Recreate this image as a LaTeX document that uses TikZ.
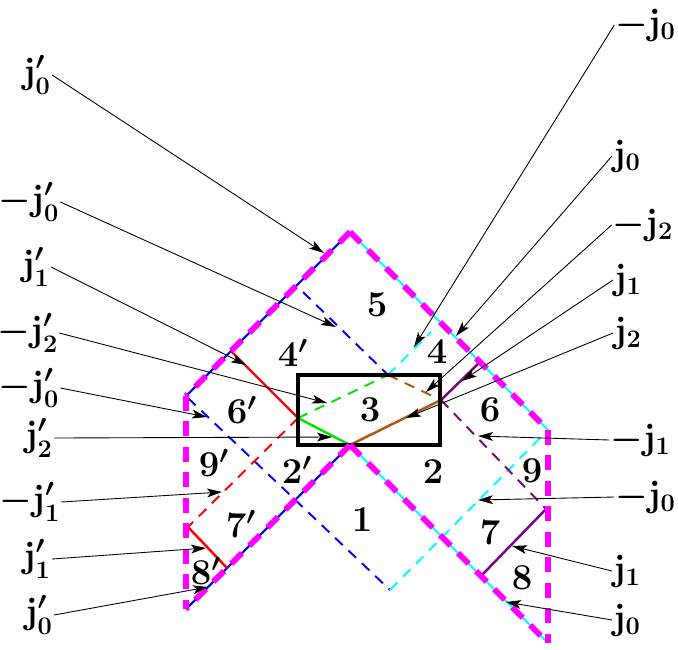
\documentclass[tikz,border=0pt]{standalone}
\usepackage{amsmath}
\usetikzlibrary{arrows.meta}

\definecolor{hexmagenta}{RGB}{255,0,255}
\definecolor{rimblue}{RGB}{0,0,255}
\definecolor{rimcyan}{RGB}{0,255,255}
\definecolor{seamred}{RGB}{255,0,0}
\definecolor{seamgreen}{RGB}{0,230,0}
\definecolor{seambrown}{RGB}{176,84,16}
\definecolor{seampurple}{RGB}{128,0,128}

\newcommand{\jpr}[1]{\mathbf{j}'_{\mathbf{#1}}}
\newcommand{\jsb}[1]{\mathbf{j}_{\mathbf{#1}}}

\begin{document}
\begin{tikzpicture}[x=0.02cm,y=-0.02cm,
        hexline/.style={hexmagenta,line width=3.4pt,dash pattern=on 8.5pt off 6pt},
        rim/.style={line width=1.2pt},
        seam/.style={line width=1.4pt},
        seamdash/.style={line width=1.1pt,dash pattern=on 6pt off 4.5pt},
        pointer/.style={-{Stealth[length=8.5pt,width=5pt,inset=2pt]},line width=0.5pt},
        region/.style={font=\fontsize{20}{24}\selectfont\boldmath,inner sep=0pt},
        jlabel/.style={font=\fontsize{20}{24}\selectfont\boldmath,inner sep=0.5pt}]
    \useasboundingbox (0,0) rectangle (678,649);

        % corners of the outline
        \coordinate (apex) at (350,232);
        \coordinate (cnl) at (186,396);
        \coordinate (cnr) at (548,430);
        \coordinate (cbl) at (186,609);
        \coordinate (cbr) at (548,643);
        \coordinate (vmid) at (350,445);
        \coordinate (vlow) at (390,590);

        % meeting points of the seams
        \coordinate (gl) at (298,418);
        \coordinate (tc) at (388,375);
        \coordinate (rb) at (441,400);
        \coordinate (redtop) at (231,351);
        \coordinate (redleft) at (188,527);
        \coordinate (redbot) at (227,568);
        \coordinate (purtop) at (480,362);
        \coordinate (purright) at (546,509);
        \coordinate (purbot) at (481,576);
        \coordinate (bluein) at (303,292);
        \coordinate (cyanin) at (431,332);
        \coordinate (bluestart) at (188,398);
        \coordinate (cyanend) at (546,432);

        \draw[rim,rimblue] (cnl) -- (apex);
        \draw[rim,rimblue] (cbl) -- (vmid);
        \draw[rim,rimcyan] (apex) -- (cnr);
        \draw[rim,rimcyan] (vmid) -- (cbr);

        \draw[seamdash,rimblue] (bluestart) -- (vlow);
        \draw[seamdash,rimcyan] (vlow) -- (cyanend);
        \draw[seamdash,rimblue] (bluein) -- (tc);
        \draw[seamdash,rimcyan] (tc) -- (cyanin);

        \draw[seam,seamred] (redtop) -- (gl);
        \draw[seamdash,seamred] (gl) -- (redleft);
        \draw[seam,seamred] (redleft) -- (redbot);
        \draw[seam,seamgreen] (gl) -- (vmid);
        \draw[seamdash,seamgreen] (gl) -- (tc);
        \draw[seam,seambrown] (vmid) -- (rb);
        \draw[seamdash,seambrown] (tc) -- (rb);
        \draw[seam,seampurple] (rb) -- (purtop);
        \draw[seamdash,seampurple] (rb) -- (purright);
        \draw[seam,seampurple] (purright) -- (purbot);

        \draw[line width=2.3pt] (298,375) rectangle (440,445);

        \draw[hexline] (apex) -- (cnl);
        \draw[hexline] (apex) -- (cnr);
        \draw[hexline] (cnl) -- (cbl);
        \draw[hexline] (cnr) -- (cbr);
        \draw[hexline] (vmid) -- (cbl);
        \draw[hexline] (vmid) -- (cbr);

        % regions
        \node[region] (r5) at (377,305) {$5$};
        \node[region] (r4p) at (293,353) {$4'$};
        \node[region] (r4) at (437,352) {$4$};
        \node[region] (r3) at (370,410) {$3$};
        \node[region] (r6p) at (242,410) {$6'$};
        \node[region] (r6) at (490,410) {$6$};
        \node[region] (r9p) at (214,463) {$9'$};
        \node[region] (r2p) at (297,470) {$2'$};
        \node[region] (r2) at (433,472) {$2$};
        \node[region] (r9) at (532,471) {$9$};
        \node[region] (r1) at (362,520) {$1$};
        \node[region] (r7p) at (241,524) {$7'$};
        \node[region] (r7) at (490,533) {$7$};
        \node[region] (r8p) at (206,571) {$8'$};
        \node[region] (r8) at (522,578) {$8$};

        % labels on the left
        \node[jlabel] (lj1) at (37,75) {$\jpr{0}$};
        \node[jlabel] (lj2) at (29,202) {$-\jpr{0}$};
        \node[jlabel] (lj3) at (36,267) {$\jpr{1}$};
        \node[jlabel] (lj4) at (28,333) {$-\jpr{2}$};
        \node[jlabel] (lj5) at (29,388) {$-\jpr{0}$};
        \node[jlabel] (lj6) at (39,438) {$\jpr{2}$};
        \node[jlabel] (lj7) at (30,502) {$-\jpr{1}$};
        \node[jlabel] (lj8) at (37,559) {$\jpr{1}$};
        \node[jlabel] (lj9) at (39,615) {$\jpr{0}$};

        \coordinate (lt1) at (324,253);
        \coordinate (lt2) at (336,327);
        \coordinate (lt3) at (246,365);
        \coordinate (lt4) at (327,403);
        \coordinate (lt5) at (207,417);
        \coordinate (lt6) at (332,437);
        \coordinate (lt7) at (222,492);
        \coordinate (lt8) at (206,548);
        \coordinate (lt9) at (208,587);

        \path[pointer] (lj1.east) edge (lt1);
        \path[pointer] (lj2.east) edge (lt2);
        \path[pointer] (lj3.east) edge (lt3);
        \path[pointer] (lj4.east) edge (lt4);
        \path[pointer] (lj5.east) edge (lt5);
        \path[pointer] (lj6.east) edge (lt6);
        \path[pointer] (lj7.east) edge (lt7);
        \path[pointer] (lj8.east) edge (lt8);
        \path[pointer] (lj9.east) edge (lt9);

        % labels on the right
        \node[jlabel,anchor=east] (rj1) at (677,25) {$-\jsb{0}$};
        \node[jlabel] (rj2) at (627,156) {$\jsb{0}$};
        \node[jlabel] (rj3) at (643,225) {$-\jsb{2}$};
        \node[jlabel] (rj4) at (628,280) {$\jsb{1}$};
        \node[jlabel] (rj5) at (628,333) {$\jsb{2}$};
        \node[jlabel,anchor=east] (rj6) at (672,440) {$-\jsb{1}$};
        \node[jlabel,anchor=east] (rj7) at (677,497) {$-\jsb{0}$};
        \node[jlabel] (rj8) at (627,571) {$\jsb{1}$};
        \node[jlabel] (rj9) at (627,620) {$\jsb{0}$};

        \coordinate (rt1) at (414,347);
        \coordinate (rt2) at (456,336);
        \coordinate (rt3) at (426,392);
        \coordinate (rt4) at (462,381);
        \coordinate (rt5) at (406,418);
        \coordinate (rt6) at (478,436);
        \coordinate (rt7) at (478,500);
        \coordinate (rt8) at (512,546);
        \coordinate (rt9) at (506,602);

        \path[pointer] (rj1.west) edge (rt1);
        \path[pointer] (rj2.west) edge (rt2);
        \path[pointer] (rj3.west) edge (rt3);
        \path[pointer] (rj4.west) edge (rt4);
        \path[pointer] (rj5.west) edge (rt5);
        \path[pointer] (rj6.west) edge (rt6);
        \path[pointer] (rj7.west) edge (rt7);
        \path[pointer] (rj8.west) edge (rt8);
        \path[pointer] (rj9.west) edge (rt9);
    \end{tikzpicture}
\end{document}
